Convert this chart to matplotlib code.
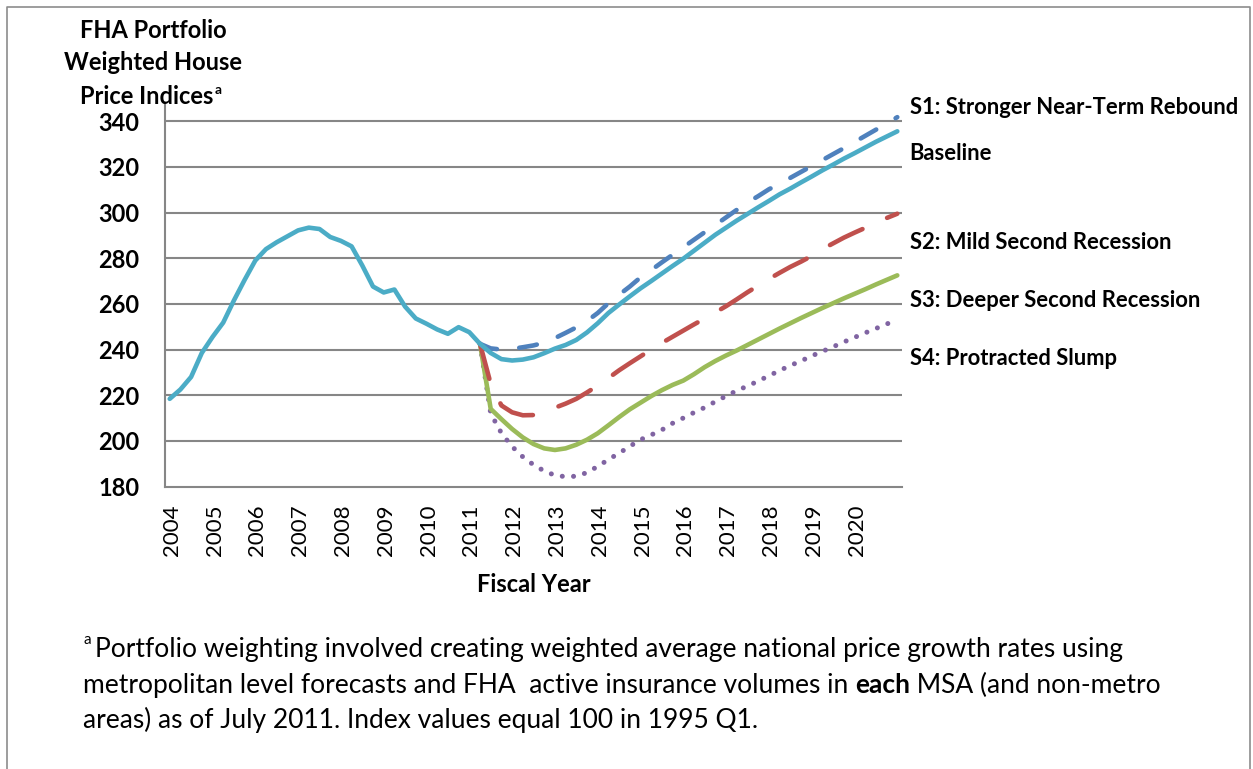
import numpy as np
import matplotlib
matplotlib.use("Agg")
import matplotlib.pyplot as plt
from matplotlib.lines import Line2D

W, H = 1253, 769

# quarterly positions on the fiscal-year axis, 2004 Q1 .. 2020 Q4 (69 points)
fiscal_years = list(range(2004, 2021))
quarter_pos = 2003.95 + 0.25 * np.arange(69)
fc_start = 29  # forecasts branch off here

baseline = [218.4, 222.5, 228.0, 238.5, 245.5, 251.8, 261.5, 270.5, 279.0, 284.0,
            287.0, 289.6, 292.2, 293.4, 292.8, 289.3, 287.6, 285.2, 276.8, 267.6,
            265.0, 266.3, 258.8, 253.6, 251.3, 248.8, 246.9, 249.8, 247.6, 242.5,
            238.5, 235.8, 235.2, 235.6, 236.6, 238.4, 240.4, 242.0, 244.2, 247.5,
            251.5, 256.0, 259.7, 263.3, 266.8, 270.0, 273.3, 276.6, 279.8, 283.3,
            286.8, 290.3, 293.4, 296.5, 299.4, 302.3, 305.1, 308.0, 310.5, 313.2,
            315.8, 318.5, 321.0, 323.6, 326.0, 328.5, 331.0, 333.3, 335.6]

s1 = [242.5, 240.5, 240.0, 240.3, 241.0, 241.8, 243.0, 245.0, 247.3, 249.7,
      252.5, 256.0, 260.3, 264.0, 267.6, 271.6, 274.8, 278.2, 281.5, 284.8,
      288.1, 291.4, 294.6, 297.9, 301.2, 304.4, 307.2, 310.2, 312.6, 315.2,
      317.8, 320.4, 323.0, 325.6, 328.2, 330.9, 333.6, 336.3, 339.0, 341.8]

s2 = [242.5, 225.0, 215.5, 212.5, 211.2, 211.3, 212.8, 214.5, 216.3, 218.4,
      221.2, 224.2, 227.5, 230.9, 234.0, 237.0, 240.0, 242.9, 245.6, 248.3,
      251.0, 253.6, 256.3, 259.0, 262.0, 265.1, 268.0, 270.9, 273.6, 276.2,
      278.5, 281.0, 284.0, 286.5, 289.0, 291.2, 293.3, 295.5, 297.6, 299.5]

s3 = [242.5, 214.0, 209.5, 205.2, 201.5, 198.6, 196.7, 196.0, 196.7, 198.3,
      200.5, 203.3, 206.8, 210.4, 213.8, 216.7, 219.6, 222.2, 224.5, 226.4,
      229.2, 232.3, 235.0, 237.4, 239.6, 242.0, 244.4, 246.8, 249.2, 251.5,
      253.8, 256.0, 258.2, 260.3, 262.4, 264.4, 266.4, 268.5, 270.5, 272.5]

s4 = [242.5, 212.0, 203.4, 197.5, 193.0, 189.5, 186.8, 184.9, 184.3, 184.5,
      186.1, 188.8, 191.8, 194.6, 197.6, 200.5, 202.6, 204.8, 207.7, 210.0,
      212.4, 214.6, 217.2, 219.6, 222.0, 224.0, 226.2, 228.5, 230.8, 233.0,
      235.0, 237.2, 239.2, 241.2, 243.3, 245.3, 247.3, 249.2, 251.2, 252.8]

scenario_labels = ["S1: Stronger Near-Term Rebound", "Baseline",
                   "S2: Mild Second Recession", "S3: Deeper Second Recession",
                   "S4: Protracted Slump"]
label_levels = [346.0, 325.8, 287.0, 261.6, 236.2]

FONT = "Lato"
plt.rcParams["font.family"] = [FONT, "DejaVu Sans"]

fig = plt.figure(figsize=(W / 100, H / 100), dpi=100)
ax_left, ax_right, ax_top, ax_bottom = 165, 902, 103, 486.5
ax = fig.add_axes([ax_left / W, 1 - ax_bottom / H,
                   (ax_right - ax_left) / W, (ax_bottom - ax_top) / H])

fc_x = quarter_pos[fc_start:]
ax.plot(fc_x, s4, color="#8064A2", lw=3.6, linestyle=(0, (0.01, 2.25)),
        dash_capstyle="round", zorder=3)
ax.plot(fc_x, s3, color="#9BBB59", lw=3.3, solid_capstyle="round", zorder=4)
ax.plot(fc_x, s2, color="#C0504D", lw=3.3, linestyle=(0, (7.9, 5.9)),
        dash_capstyle="round", zorder=5)
ax.plot(fc_x, s1, color="#4F81BD", lw=3.3, linestyle=(0, (3.9, 4.9)),
        dash_capstyle="round", zorder=6)
ax.plot(quarter_pos, baseline, color="#4BACC6", lw=3.3,
        solid_capstyle="round", solid_joinstyle="round", zorder=7)

ax.set_xlim(2003.84, 2021.06)
ax.set_ylim(180, 348)
ax.set_yticks(range(180, 341, 20))
ax.set_xticks(fiscal_years)
ax.set_xticklabels([str(y) for y in fiscal_years], rotation=90, fontsize=16)
ax.set_yticklabels([str(v) for v in range(180, 341, 20)], fontsize=17,
                   fontweight="bold")
ax.tick_params(axis="both", length=0)
ax.tick_params(axis="y", pad=18.5)
ax.tick_params(axis="x", pad=13)

# gridlines only up to 340
for v in range(200, 341, 20):
    ax.axhline(v, color="#868686", lw=1.5, zorder=1)
for side in ["top", "right"]:
    ax.spines[side].set_visible(False)
for side in ["left", "bottom"]:
    ax.spines[side].set_color("#868686")
    ax.spines[side].set_linewidth(1.5)

ax.set_xlabel("Fiscal Year", fontsize=17, fontweight="bold", labelpad=12)

for txt, lvl in zip(scenario_labels, label_levels):
    ax.text(2021.24, lvl, txt, fontsize=15.8, fontweight="bold",
            ha="left", va="center", clip_on=False)

# y-axis title (three centred lines, superscript on the last)
fig.text(153 / W, 1 - 30 / H, "FHA Portfolio", fontsize=17, fontweight="bold",
         ha="center", va="center")
fig.text(153 / W, 1 - 63 / H, "Weighted House", fontsize=17, fontweight="bold",
         ha="center", va="center")
fig.canvas.draw()
renderer = fig.canvas.get_renderer()
t = fig.text(147 / W, 1 - 97 / H, "Price Indices", fontsize=17, fontweight="bold",
             ha="center", va="center")
bb = t.get_window_extent(renderer)
fig.text(bb.x1 / W + 1 / W, 1 - 90 / H, "a", fontsize=10, fontweight="bold",
         ha="left", va="center")


def draw_runs(x_px, y_px, runs, size):
    """draw a line of text made of (string, weight) pieces, left to right"""
    x = x_px
    for s, w in runs:
        tt = fig.text(x / W, 1 - y_px / H, s, fontsize=size, fontweight=w,
                      ha="left", va="baseline")
        x = tt.get_window_extent(renderer).x1


fs = 19
fig.text(83 / W, 1 - 640 / H, "a", fontsize=11, ha="left", va="center")
draw_runs(95, 657, [("Portfolio weighting involved creating weighted average national "
                     "price growth rates using", "normal")], fs)
draw_runs(83, 693, [("metropolitan level forecasts and FHA  active insurance volumes in ",
                     "normal"), ("each", "bold"), (" MSA (and non-metro", "normal")], fs)
draw_runs(83, 728, [("areas) as of July 2011. Index values equal 100 in 1995 Q1.",
                     "normal")], fs)

# outer frame (left, top, right)
fx0, fx1, fy1 = 7 / W, 1250 / W, 1 - 7 / H
fig.add_artist(Line2D([fx0, fx0, fx1, fx1], [0, fy1, fy1, 0],
                      transform=fig.transFigure, color="#8c8c8c", lw=1.2))

fig.savefig("out.png", dpi=100)
